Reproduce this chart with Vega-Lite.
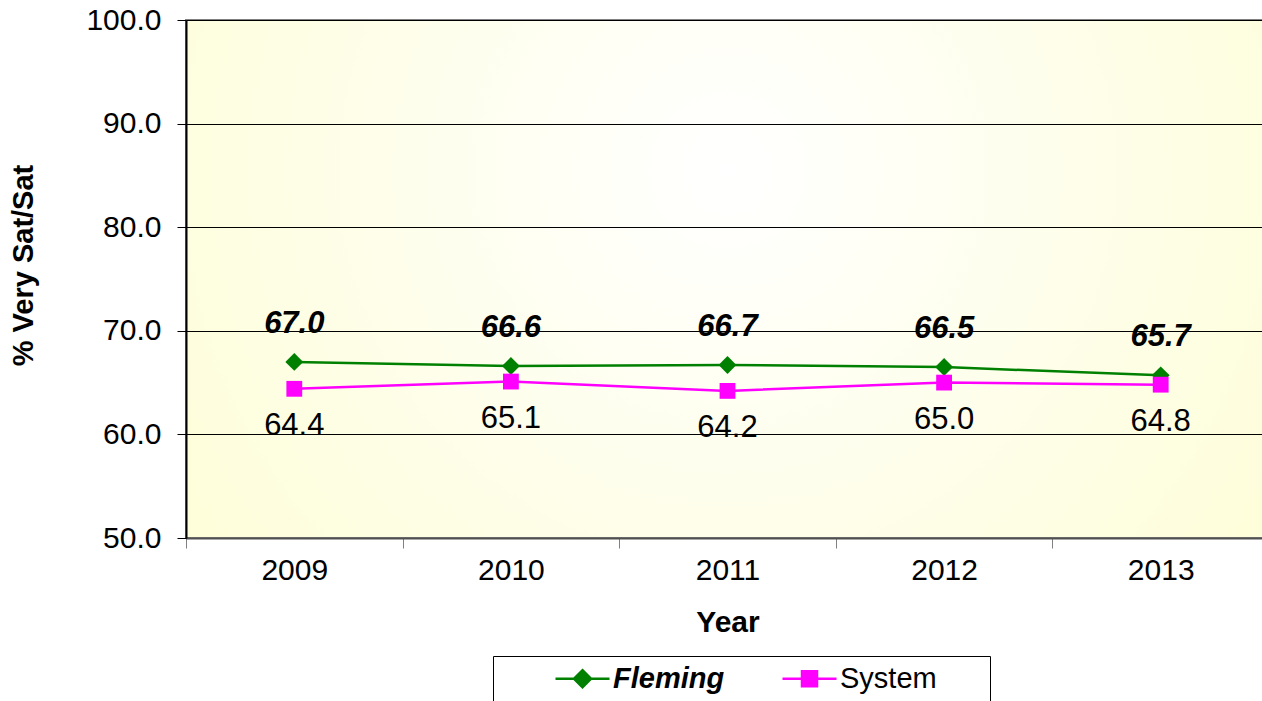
{
  "$schema": "https://vega.github.io/schema/vega-lite/v6.json",
  "width": 1083,
  "height": 518,
  "autosize": "none",
  "padding": {"left": 186, "top": 20, "right": 0, "bottom": 163},
  "background": "#ffffff",
  "config": {
    "font": "Liberation Sans",
    "view": {
      "stroke": "#808080",
      "strokeWidth": 2,
      "fill": {
        "gradient": "radial",
        "x1": 0.5, "y1": 0.4, "r1": 0,
        "x2": 0.5, "y2": 0.4, "r2": 0.75,
        "stops": [
          {"offset": 0, "color": "#ffffff"},
          {"offset": 1, "color": "#fdfdd0"}
        ]
      }
    },
    "axis": {
      "labelFont": "Liberation Sans",
      "titleFont": "Liberation Sans",
      "labelColor": "#000000",
      "titleColor": "#000000"
    }
  },
  "data": {
    "values": [
      {"year": "2009", "series": "Fleming", "value": 67.0},
      {"year": "2010", "series": "Fleming", "value": 66.6},
      {"year": "2011", "series": "Fleming", "value": 66.7},
      {"year": "2012", "series": "Fleming", "value": 66.5},
      {"year": "2013", "series": "Fleming", "value": 65.7},
      {"year": "2009", "series": "System", "value": 64.4},
      {"year": "2010", "series": "System", "value": 65.1},
      {"year": "2011", "series": "System", "value": 64.2},
      {"year": "2012", "series": "System", "value": 65.0},
      {"year": "2013", "series": "System", "value": 64.8}
    ]
  },
  "encoding": {
    "x": {
      "field": "year",
      "type": "ordinal",
      "scale": {"type": "band", "paddingInner": 0, "paddingOuter": 0},
      "axis": {
        "title": "Year",
        "titleFontSize": 30,
        "titleFontWeight": "bold",
        "titlePadding": 22,
        "labelFontSize": 30,
        "labelAngle": 0,
        "labelPadding": 7,
        "tickBand": "extent",
        "tickSize": 10,
        "tickColor": "#808080",
        "tickWidth": 1,
        "domainColor": "#505050",
        "domainWidth": 2,
        "grid": false
      }
    },
    "y": {
      "field": "value",
      "type": "quantitative",
      "scale": {"domain": [50, 100], "nice": false, "zero": false},
      "axis": {
        "title": "% Very Sat/Sat",
        "titleFontSize": 29,
        "titleFontWeight": "bold",
        "titlePadding": 47,
        "titleY": 245,
        "values": [50, 60, 70, 80, 90, 100],
        "format": ".1f",
        "labelFontSize": 30,
        "labelPadding": 16,
        "tickSize": 9,
        "tickColor": "#000000",
        "domainColor": "#000000",
        "domainWidth": 2,
        "grid": true,
        "gridColor": "#000000",
        "gridWidth": 1,
        "gridOpacity": 1
      }
    }
  },
  "layer": [
    {
      "mark": {"type": "line", "strokeWidth": 2.5},
      "encoding": {
        "color": {
          "field": "series",
          "type": "nominal",
          "scale": {"domain": ["Fleming", "System"], "range": ["#008000", "#ff00ff"]},
          "legend": {
            "title": null,
            "orient": "none",
            "legendX": 307,
            "legendY": 636,
            "direction": "horizontal",
            "padding": 8,
            "strokeColor": "#000000",
            "fillColor": "#ffffff",
            "symbolSize": 400,
            "symbolOffset": 67,
            "symbolStrokeWidth": 2.5,
            "labelFont": "Liberation Sans",
            "labelFontSize": 29,
            "labelColor": "#000000",
            "labelOffset": 16,
            "columnPadding": 3,
            "encode": {
              "symbols": {
                "update": {
                  "shape": {"signal": "datum.value === 'Fleming' ? 'M-2.7,0H2.7M0,-0.85L0.85,0L0,0.85L-0.85,0Z' : 'M-2.7,0H2.7M-0.75,-0.75H0.75V0.75H-0.75ZM16.7,0'"},
                  "fill": {"signal": "datum.value === 'Fleming' ? '#008000' : '#ff00ff'"},
                  "stroke": {"signal": "datum.value === 'Fleming' ? '#008000' : '#ff00ff'"},
                  "opacity": {"value": 1}
                }
              },
              "labels": {
                "update": {
                  "fontWeight": {"signal": "datum.value === 'Fleming' ? 'bold' : 'normal'"},
                  "fontStyle": {"signal": "datum.value === 'Fleming' ? 'italic' : 'normal'"}
                }
              }
            }
          }
        }
      }
    },
    {
      "transform": [{"filter": "datum.series === 'Fleming'"}],
      "mark": {"type": "point", "shape": "diamond", "filled": true, "opacity": 1, "size": 320, "color": "#008000"}
    },
    {
      "transform": [{"filter": "datum.series === 'System'"}],
      "mark": {"type": "point", "shape": "square", "filled": true, "opacity": 1, "size": 250, "color": "#ff00ff"}
    },
    {
      "transform": [{"filter": "datum.series === 'Fleming'"}],
      "mark": {"type": "text", "dy": -38, "fontSize": 31, "fontWeight": "bold", "fontStyle": "italic", "baseline": "middle", "font": "Liberation Sans", "color": "#000000"},
      "encoding": {"text": {"field": "value", "type": "quantitative", "format": ".1f"}}
    },
    {
      "transform": [{"filter": "datum.series === 'System'"}],
      "mark": {"type": "text", "dy": 37, "fontSize": 31, "baseline": "middle", "font": "Liberation Sans", "color": "#000000"},
      "encoding": {"text": {"field": "value", "type": "quantitative", "format": ".1f"}}
    }
  ]
}
